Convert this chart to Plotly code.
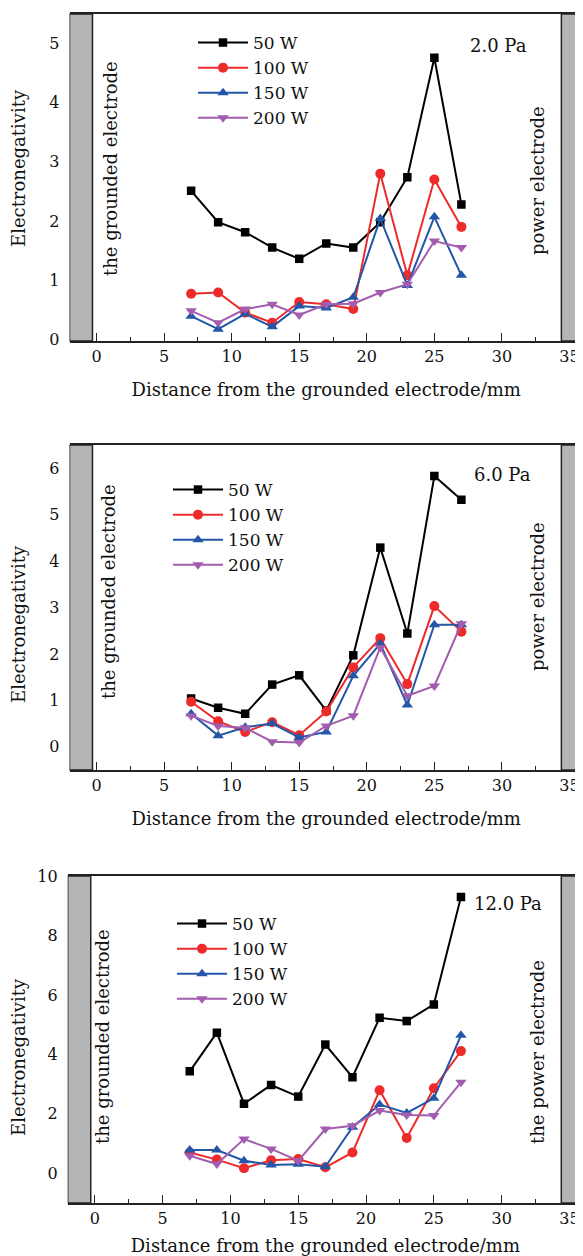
import plotly.graph_objects as go

# ---------------- data ----------------
x_mm = [7, 9, 11, 13, 15, 17, 19, 21, 23, 25, 27]
series_names = ["50 W", "100 W", "150 W", "200 W"]

p2_50 = [2.51, 1.98, 1.81, 1.55, 1.36, 1.62, 1.55, 1.98, 2.74, 4.76, 2.28]
p2_100 = [0.77, 0.79, 0.45, 0.28, 0.63, 0.59, 0.51, 2.80, 1.08, 2.70, 1.90]
p2_150 = [0.39, 0.17, 0.43, 0.21, 0.56, 0.53, 0.71, 2.04, 0.91, 2.07, 1.08]
p2_200 = [0.48, 0.28, 0.51, 0.59, 0.41, 0.59, 0.60, 0.79, 0.93, 1.66, 1.55]

p6_50 = [1.04, 0.84, 0.71, 1.34, 1.54, 0.78, 1.97, 4.29, 2.44, 5.83, 5.32]
p6_100 = [0.97, 0.55, 0.32, 0.53, 0.25, 0.76, 1.71, 2.34, 1.35, 3.03, 2.48]
p6_150 = [0.71, 0.24, 0.42, 0.50, 0.20, 0.32, 1.53, 2.22, 0.90, 2.63, 2.63]
p6_200 = [0.67, 0.45, 0.41, 0.11, 0.09, 0.45, 0.67, 2.14, 1.10, 1.31, 2.65]

p12_50 = [3.43, 4.73, 2.34, 2.97, 2.58, 4.33, 3.23, 5.23, 5.12, 5.68, 9.29]
p12_100 = [0.70, 0.46, 0.17, 0.44, 0.48, 0.20, 0.70, 2.79, 1.19, 2.86, 4.11]
p12_150 = [0.78, 0.78, 0.42, 0.28, 0.30, 0.22, 1.55, 2.31, 2.03, 2.52, 4.64]
p12_200 = [0.59, 0.31, 1.15, 0.82, 0.42, 1.49, 1.60, 2.11, 1.96, 1.94, 3.06]

pressures = ["2.0 Pa", "6.0 Pa", "12.0 Pa"]
right_labels = ["power electrode", "power electrode", "the power electrode"]
left_label = "the grounded electrode"
x_title = "Distance from the grounded electrode/mm"
y_title = "Electronegativity"
x_ticks = [0, 5, 10, 15, 20, 25, 30, 35]
y_ranges = [[-0.03, 5.5], [-0.5, 6.5], [-1, 10]]
y_ticks = [[0, 1, 2, 3, 4, 5], [0, 1, 2, 3, 4, 5, 6], [0, 2, 4, 6, 8, 10]]
x_range = [-2, 36]
left_bar = [-2, -0.3]
right_bar = [34.4, 36]

panels = [
    [p2_50, p2_100, p2_150, p2_200],
    [p6_50, p6_100, p6_150, p6_200],
    [p12_50, p12_100, p12_150, p12_200],
]

# ---------------- styling ----------------
PAGE_OFF = 8            # default page margin around the plot div
W, H = 583 - PAGE_OFF, 1256 - PAGE_OFF
FONT = "DejaVu Serif"
colors = ["#000000", "#ee2b2b", "#2456a8", "#a35daf"]
symbols = ["square", "circle", "triangle-up", "triangle-down"]
msizes = [8.5, 10, 10, 10]

# on-screen pixel geometry of the panels (top, bottom, left)
panel_px = [(14, 341, 69.5), (445, 770, 69.5), (876, 1203, 67.7)]
right_px = 583
legend_pos = [(193, 25), (168, 472), (172, 906)]
press_pos = [(468, 45), (472, 474), (472, 903)]
left_lab_pos = [(111, 169), (108, 592), (102, 1037)]
right_lab_pos = [(537, 181), (537, 597), (537, 1052)]
ytitle_pos = [(18, 168), (18, 624), (18, 1057)]

def px(xs):
    return (xs - PAGE_OFF) / W

def py(ys):
    return 1 - (ys - PAGE_OFF) / H

fig = go.Figure()
shapes = []
annotations = []
layout = dict(
    width=W, height=H,
    margin=dict(l=0, r=0, t=0, b=0, autoexpand=False),
    paper_bgcolor="white", plot_bgcolor="white",
    font=dict(family=FONT, size=16, color="#111"),
    showlegend=True,
)

for i, series in enumerate(panels):
    n = "" if i == 0 else str(i + 1)
    xa, ya = "x" + n, "y" + n
    leg = "legend" + n
    for j, vals in enumerate(series):
        fig.add_trace(go.Scatter(
            x=x_mm, y=vals, name=series_names[j], mode="lines+markers",
            xaxis=xa, yaxis=ya, legend=leg,
            line=dict(color=colors[j], width=2),
            marker=dict(symbol=symbols[j], size=msizes[j], color=colors[j]),
        ))
    top, bot, left = panel_px[i]
    layout["xaxis" + n] = dict(
        domain=[px(left), min(1.0, px(right_px))], range=x_range, anchor=ya,
        automargin=False,
        showline=True, mirror=True, linecolor="#222", linewidth=1.5,
        ticks="inside", ticklen=8, tickwidth=1, tickcolor="#222",
        tickvals=x_ticks, showgrid=False, zeroline=False,
        minor=dict(ticks="inside", ticklen=4, tickwidth=1, tickcolor="#222",
                   tickvals=[t + 2.5 for t in x_ticks[:-1]]),
        tickfont=dict(family=FONT, size=16),
        ticklabelstandoff=0,
        title=dict(text=x_title, font=dict(family=FONT, size=18), standoff=18),
        fixedrange=True,
    )
    layout["yaxis" + n] = dict(
        domain=[py(bot), py(top)], range=y_ranges[i], anchor=xa, automargin=False,
        showline=False, ticks="", tickvals=y_ticks[i], showgrid=False,
        zeroline=False, tickfont=dict(family=FONT, size=16),
        ticklabelstandoff=9, fixedrange=True,
    )
    lx, ly = legend_pos[i]
    layout[leg] = dict(
        x=px(lx), y=py(ly), xanchor="left", yanchor="top",
        xref="paper", yref="paper",
        bgcolor="rgba(0,0,0,0)", borderwidth=0,
        font=dict(family=FONT, size=17, color="#111"),
        itemwidth=50, tracegroupgap=0,
    )
    # electrode bars
    for (x0, x1) in (left_bar, right_bar):
        shapes.append(dict(
            type="rect", xref=xa, yref=ya + " domain",
            x0=x0, x1=x1, y0=0, y1=1,
            fillcolor="#b5b5b5", line=dict(color="#222", width=1.5),
            layer="above",
        ))
    # texts
    annotations.append(dict(
        text=pressures[i], x=px(press_pos[i][0]), y=py(press_pos[i][1]),
        xref="paper", yref="paper", xanchor="left", yanchor="middle",
        showarrow=False, font=dict(family=FONT, size=18, color="#111"),
    ))
    annotations.append(dict(
        text=left_label, x=px(left_lab_pos[i][0]), y=py(left_lab_pos[i][1]),
        xref="paper", yref="paper", xanchor="center", yanchor="middle",
        textangle=-90, showarrow=False,
        font=dict(family=FONT, size=18, color="#111"),
    ))
    annotations.append(dict(
        text=right_labels[i], x=px(right_lab_pos[i][0]), y=py(right_lab_pos[i][1]),
        xref="paper", yref="paper", xanchor="center", yanchor="middle",
        textangle=-90, showarrow=False,
        font=dict(family=FONT, size=18, color="#111"),
    ))
    annotations.append(dict(
        text=y_title, x=px(ytitle_pos[i][0]), y=py(ytitle_pos[i][1]),
        xref="paper", yref="paper", xanchor="center", yanchor="middle",
        textangle=-90, showarrow=False,
        font=dict(family=FONT, size=18, color="#111"),
    ))

layout["shapes"] = shapes
layout["annotations"] = annotations
fig.update_layout(**layout)
fig.write_html("out.html")
